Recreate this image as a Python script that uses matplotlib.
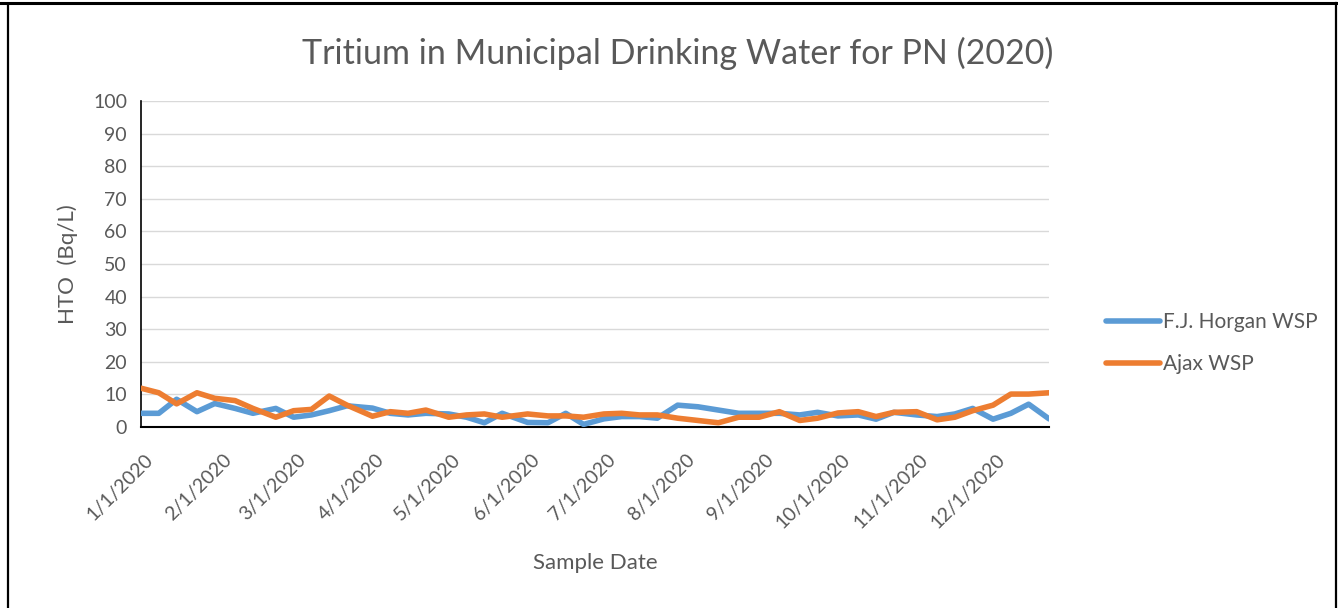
import matplotlib
matplotlib.use("Agg")
import matplotlib.pyplot as plt
import matplotlib.transforms as mtransforms
import pandas as pd
from matplotlib.lines import Line2D

sample_dates = [
    "2020-01-01", "2020-01-08", "2020-01-15", "2020-01-23", "2020-01-30",
    "2020-02-07", "2020-02-14", "2020-02-23", "2020-03-01", "2020-03-08",
    "2020-03-15", "2020-03-22", "2020-04-01", "2020-04-08", "2020-04-15",
    "2020-04-22", "2020-05-01", "2020-05-08", "2020-05-15", "2020-05-22",
    "2020-06-01", "2020-06-09", "2020-06-16", "2020-06-23", "2020-07-01",
    "2020-07-08", "2020-07-15", "2020-07-22", "2020-07-30", "2020-08-07",
    "2020-08-15", "2020-08-23", "2020-08-31", "2020-09-08", "2020-09-16",
    "2020-09-23", "2020-10-01", "2020-10-09", "2020-10-16", "2020-10-23",
    "2020-11-01", "2020-11-09", "2020-11-16", "2020-11-23", "2020-12-01",
    "2020-12-08", "2020-12-15", "2020-12-23",
]

horgan = [
    4.2, 4.2, 8.5, 4.7, 7.2, 5.7, 4.2, 5.7, 3.0, 3.7,
    5.0, 6.5, 5.8, 4.2, 3.7, 4.2, 4.0, 3.0, 1.3, 4.2,
    1.4, 1.3, 4.2, 0.8, 2.5, 3.2, 3.2, 2.7, 6.7, 6.2,
    5.2, 4.2, 4.2, 4.2, 3.7, 4.5, 3.4, 3.7, 2.4, 4.5,
    3.7, 3.2, 4.0, 5.7, 2.4, 4.2, 7.0, 2.5,
]

ajax = [
    11.9, 10.5, 7.1, 10.5, 8.8, 8.1, 5.7, 3.0, 5.0, 5.4,
    9.5, 6.7, 3.3, 4.7, 4.2, 5.2, 3.0, 3.7, 4.0, 3.0,
    4.0, 3.4, 3.4, 3.0, 4.0, 4.2, 3.7, 3.7, 2.7, 2.0,
    1.3, 3.0, 3.0, 4.7, 2.0, 2.7, 4.3, 4.7, 3.2, 4.5,
    4.7, 2.2, 3.0, 5.0, 6.7, 10.1, 10.1, 10.5,
]

series_names = ["F.J. Horgan WSP", "Ajax WSP"]
title = "Tritium in Municipal Drinking Water for PN (2020)"

BLUE = "#5B9BD5"
ORANGE = "#ED7D31"
GREY = "#595959"

plt.rcParams["font.family"] = ["Lato", "DejaVu Sans"]

dates = pd.to_datetime(sample_dates)

fig = plt.figure(figsize=(13.38, 6.08), dpi=100)
ax = fig.add_axes([141 / 1338, 1 - 427 / 608, (1049 - 141) / 1338, (427 - 101) / 608])

ax.plot(dates, horgan, color=BLUE, lw=4, solid_capstyle="round", solid_joinstyle="round", zorder=3)
ax.plot(dates, ajax, color=ORANGE, lw=4, solid_capstyle="round", solid_joinstyle="round", zorder=4)

ax.set_xlim(dates[0], dates[-1])
ax.set_ylim(0, 100)
ax.set_yticks(range(0, 101, 10))
ax.grid(axis="y", color="#d9d9d9", lw=1.0)
ax.set_axisbelow(True)

months = pd.date_range("2020-01-01", "2020-12-01", freq="MS")
ax.set_xticks(months)
ax.set_xticklabels([f"{d.month}/{d.day}/{d.year}" for d in months],
                   rotation=45, ha="right", va="top", rotation_mode="anchor")

ax.tick_params(axis="both", length=0, labelsize=14, colors=GREY)
ax.tick_params(axis="y", pad=10)
ax.tick_params(axis="x", pad=17)
shift = mtransforms.ScaledTranslation(3 / 100, 0, fig.dpi_scale_trans)
for lbl in ax.get_xticklabels():
    lbl.set_transform(lbl.get_transform() + shift)

for side in ("top", "right"):
    ax.spines[side].set_visible(False)
ax.spines["left"].set_color("black")
ax.spines["bottom"].set_color("black")
ax.spines["left"].set_linewidth(1.2)
ax.spines["bottom"].set_linewidth(1.5)

ax.set_ylabel("HTO  (Bq/L)", fontsize=16, color=GREY, labelpad=11)
fig.text(595 / 1338, 1 - 563 / 608, "Sample Date", fontsize=16, color=GREY,
         ha="center", va="center")
fig.text(678 / 1338, 1 - 53 / 608, title, fontsize=24.5, color=GREY,
         ha="center", va="center")

handles = [Line2D([], [], color=BLUE, lw=4, solid_capstyle="round"),
           Line2D([], [], color=ORANGE, lw=4, solid_capstyle="round")]
leg = fig.legend(handles, series_names, loc="center left",
                 bbox_to_anchor=(1106 / 1338, 1 - 343 / 608), frameon=False,
                 fontsize=15, handlelength=2.6, handletextpad=0.15, labelspacing=1.05,
                 borderaxespad=0, borderpad=0)
for t in leg.get_texts():
    t.set_color(GREY)

# outer chart border (screenshot frame)
fig.add_artist(Line2D([8 / 1338, 8 / 1338], [0, 1 - 4 / 608], transform=fig.transFigure,
                      color="black", lw=1.6))
fig.add_artist(Line2D([0, 1], [1 - 3 / 608, 1 - 3 / 608], transform=fig.transFigure,
                      color="black", lw=2.2))
fig.add_artist(Line2D([1336 / 1338, 1336 / 1338], [0, 1 - 3 / 608], transform=fig.transFigure,
                      color="black", lw=1.6))

fig.savefig("out.png", dpi=100, facecolor="white")
